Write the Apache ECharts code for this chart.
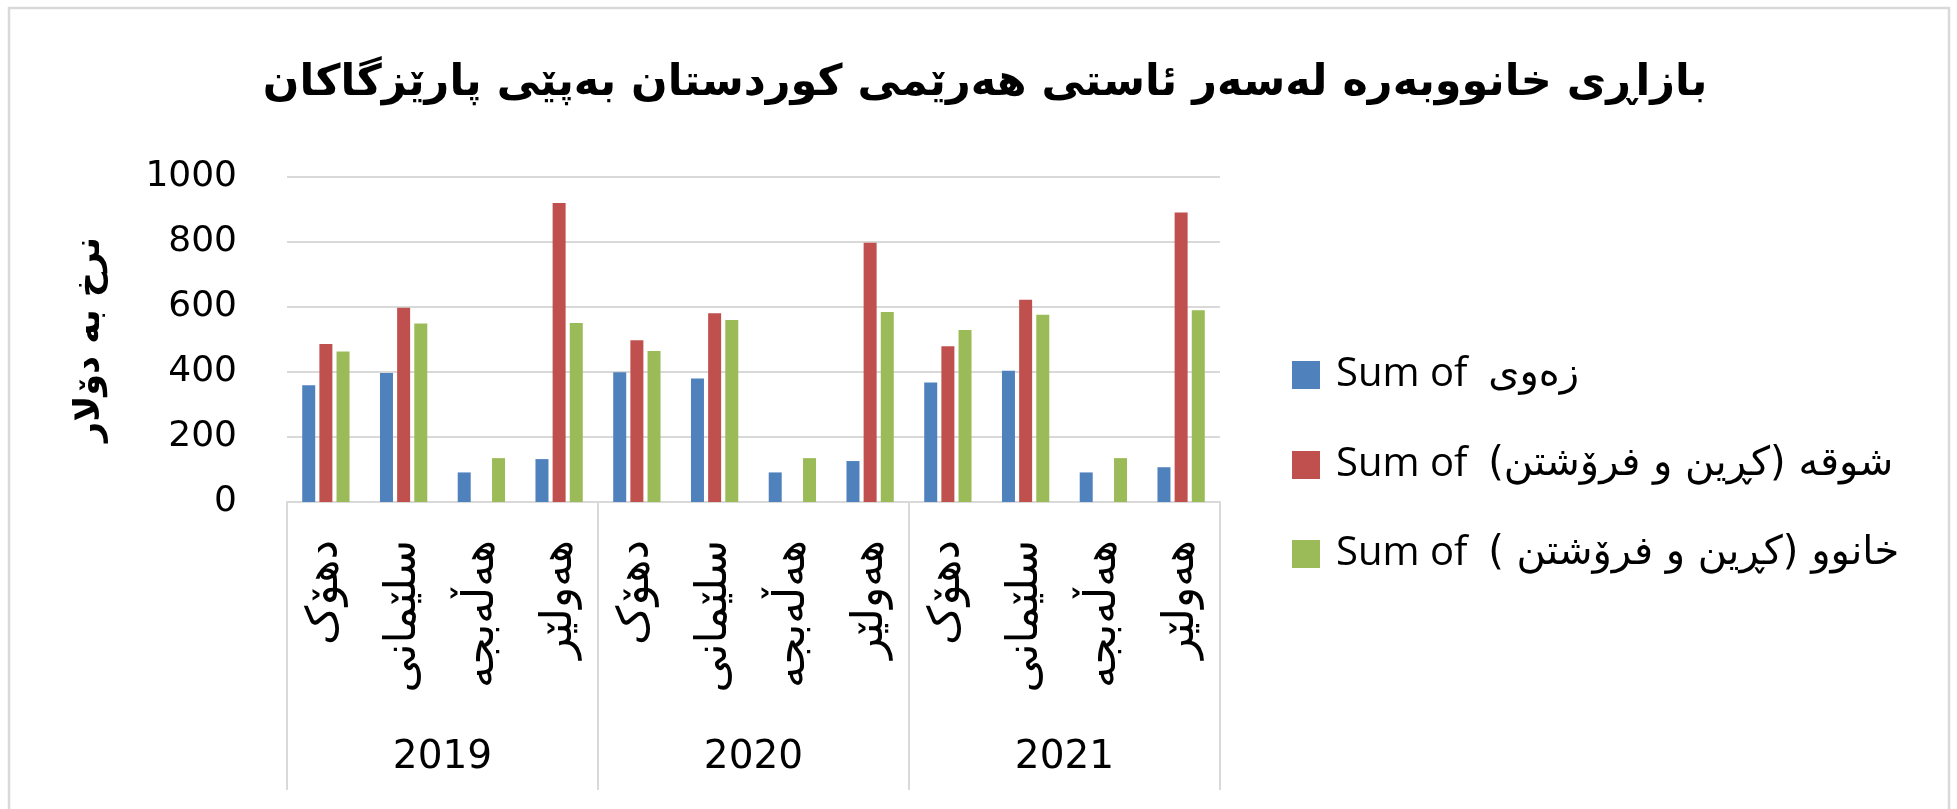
<!DOCTYPE html>
<html>
<head>
<meta charset="utf-8">
<script src="https://cdn.jsdelivr.net/npm/echarts@6/dist/echarts.min.js"></script>
<style>html,body{margin:0;padding:0;background:#fff;}#c{width:1957px;height:809px;}</style>
</head>
<body>
<div id="c"></div>
<script>
const titleText = 'بازاڕی خانووبەرە لەسەر ئاستی هەرێمی کوردستان بەپێی پارێزگاکان';
const yAxisName = 'نرخ بە دۆلار';
const cities = ['دهۆک', 'سلێمانی', 'هەڵەبجە', 'هەولێر'];
const years = ['2019', '2020', '2021'];
const categories = [].concat(cities, cities, cities);
const legendPrefix = 'Sum of';
const legendArabic = ['زەوی', '\u202Bشوقە (کڕین و فرۆشتن)\u202C', '\u202Bخانوو (کڕین و فرۆشتن )\u202C'];
const seriesNames = ['Sum of  زەوی', 'Sum of  شوقە (کڕین و فرۆشتن)', 'Sum of خانوو (کڕین و فرۆشتن )'];
const landValues = [359, 397, 91, 132, 399, 380, 91, 126, 368, 404, 91, 107];
const apartmentValues = [486, 598, null, 920, 498, 581, null, 798, 479, 622, null, 891];
const houseValues = [463, 549, 135, 551, 465, 560, 135, 585, 529, 576, 135, 590];
const yTicks = { min: 0, max: 1000, interval: 200 };

const LATIN = '"Open Sans", "DejaVu Sans", sans-serif';
const NUM = '"DejaVu Sans", sans-serif';
const ARAB = '"DejaVu Sans", sans-serif';
const colors = ['#4F81BD', '#C0504D', '#9BBB59'];
const chart = echarts.init(document.getElementById('c'), null, { renderer: 'canvas' });

function bar(name, data, color) {
  return {
    name: name, type: 'bar', data: data, xAxisIndex: 0, yAxisIndex: 0,
    barWidth: 13, barGap: '32%',
    itemStyle: { color: color },
    emphasis: { disabled: true }
  };
}

const legendTops = [350, 440, 529];
function legend(i) {
  return {
    orient: 'vertical', left: 1287, top: legendTops[i],
    itemWidth: 28, itemHeight: 28,
    icon: 'rect', selectedMode: false,
    formatter: function (name) {
      const k = seriesNames.indexOf(name);
      return '{a|' + legendPrefix + '  }{b|' + legendArabic[k] + '}';
    },
    textStyle: {
      color: '#000', padding: [0, 0, 0, 11],
      rich: {
        a: { fontFamily: LATIN, fontSize: 40, lineHeight: 48, color: '#000' },
        b: { fontFamily: ARAB, fontSize: 40, lineHeight: 48, color: '#000' }
      }
    },
    data: [seriesNames[i]]
  };
}

chart.setOption({
  animation: false,
  backgroundColor: '#fff',
  color: colors,
  graphic: [{
    type: 'rect', shape: { x: 9, y: 8, width: 1940, height: 830 },
    style: { fill: 'none', stroke: '#d9d9d9', lineWidth: 2.5 }, silent: true
  }],
  title: {
    text: titleText, left: 980, top: 57, textAlign: 'center',
    textStyle: { fontFamily: ARAB, fontSize: 43, fontWeight: 'bold', color: '#000' }
  },
  legend: [legend(0), legend(1), legend(2)],
  grid: { left: 287, right: 737, top: 177, bottom: 307, containLabel: false },
  xAxis: [{
    type: 'category', data: categories, position: 'bottom',
    axisLine: { show: true, lineStyle: { color: '#d9d9d9', width: 2 } },
    axisTick: { show: false },
    axisLabel: { interval: 0, rotate: 90, margin: 38, fontFamily: ARAB, fontSize: 44, color: '#000' }
  }, {
    type: 'category', data: years, position: 'bottom',
    axisLine: { show: false },
    axisTick: { show: true, length: 288, interval: 0, lineStyle: { color: '#d9d9d9', width: 2 } },
    axisLabel: { interval: 0, margin: 236, fontFamily: NUM, fontSize: 39, color: '#000' }
  }],
  yAxis: {
    type: 'value', min: yTicks.min, max: yTicks.max, interval: yTicks.interval,
    name: yAxisName, nameLocation: 'middle', nameRotate: 90, nameGap: 180,
    nameTextStyle: { fontFamily: ARAB, fontSize: 35, fontWeight: 'bold', color: '#000' },
    axisLine: { show: false }, axisTick: { show: false },
    axisLabel: { margin: 50, fontFamily: NUM, fontSize: 36, color: '#000', formatter: function (v) { return String(v); } },
    splitLine: { lineStyle: { color: '#d9d9d9', width: 2 } }
  },
  series: [
    bar(seriesNames[0], landValues, colors[0]),
    bar(seriesNames[1], apartmentValues, colors[1]),
    bar(seriesNames[2], houseValues, colors[2])
  ]
});
</script>
</body>
</html>
